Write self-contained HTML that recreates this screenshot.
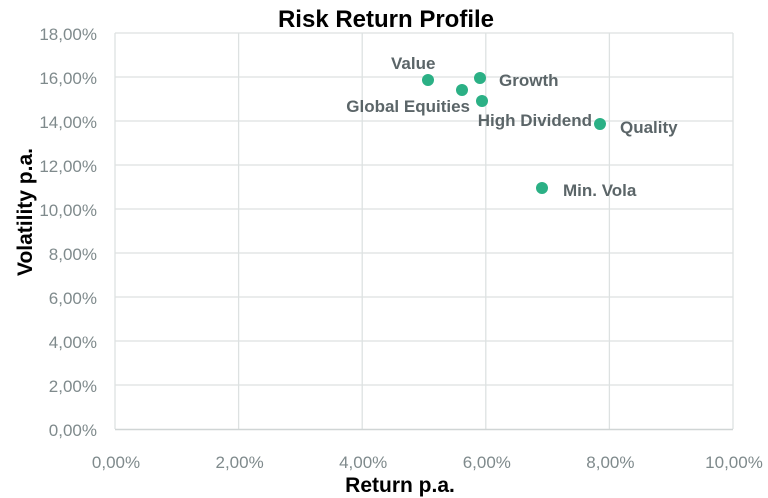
<!DOCTYPE html>
<html><head><meta charset="utf-8"><style>
html,body{margin:0;padding:0;background:#fff;}
svg{display:block;font-family:"Liberation Sans",sans-serif;}
</style></head><body>
<svg width="768" height="498" viewBox="0 0 768 498">
<g stroke="#dde1e1" stroke-width="1.3">
<line x1="115" y1="33" x2="733" y2="33"/>
<line x1="115" y1="77" x2="733" y2="77"/>
<line x1="115" y1="121" x2="733" y2="121"/>
<line x1="115" y1="165" x2="733" y2="165"/>
<line x1="115" y1="209" x2="733" y2="209"/>
<line x1="115" y1="253" x2="733" y2="253"/>
<line x1="115" y1="297" x2="733" y2="297"/>
<line x1="115" y1="341" x2="733" y2="341"/>
<line x1="115" y1="385" x2="733" y2="385"/>
<line x1="238.6" y1="33" x2="238.6" y2="429"/>
<line x1="362.2" y1="33" x2="362.2" y2="429"/>
<line x1="485.8" y1="33" x2="485.8" y2="429"/>
<line x1="609.4" y1="33" x2="609.4" y2="429"/>
<line x1="733" y1="33" x2="733" y2="429"/>
<line x1="115" y1="33" x2="115" y2="429"/>
</g>
<line x1="115" y1="429.5" x2="733" y2="429.5" stroke="#d0d5d5" stroke-width="1.5"/>
<text x="386" y="27" text-anchor="middle" font-size="24" font-weight="bold" fill="#000">Risk Return Profile</text>
<g font-size="17" fill="#7f8a8c" text-anchor="end">
<text x="97" y="40">18,00%</text>
<text x="97" y="84">16,00%</text>
<text x="97" y="128">14,00%</text>
<text x="97" y="172">12,00%</text>
<text x="97" y="216">10,00%</text>
<text x="97" y="260">8,00%</text>
<text x="97" y="304">6,00%</text>
<text x="97" y="348">4,00%</text>
<text x="97" y="392">2,00%</text>
<text x="97" y="436">0,00%</text>
</g>
<g font-size="17" fill="#7f8a8c" text-anchor="middle">
<text x="116" y="468">0,00%</text>
<text x="239.6" y="468">2,00%</text>
<text x="363.2" y="468">4,00%</text>
<text x="486.8" y="468">6,00%</text>
<text x="610.4" y="468">8,00%</text>
<text x="734" y="468">10,00%</text>
</g>
<text x="400" y="492" text-anchor="middle" font-size="21" font-weight="bold" fill="#000">Return p.a.</text>
<text transform="translate(32,212) rotate(-90)" text-anchor="middle" font-size="21" font-weight="bold" fill="#000">Volatility p.a.</text>
<g fill="#2bb085">
<circle cx="428" cy="80" r="6"/>
<circle cx="480" cy="78" r="6"/>
<circle cx="462" cy="90" r="6"/>
<circle cx="482" cy="101" r="6"/>
<circle cx="600" cy="124" r="6"/>
<circle cx="542" cy="188" r="6"/>
</g>
<g font-size="17" font-weight="bold" fill="#5b6568">
<text x="391" y="69">Value</text>
<text x="499" y="86">Growth</text>
<text x="470" y="112" text-anchor="end">Global Equities</text>
<text x="592" y="126" text-anchor="end">High Dividend</text>
<text x="620" y="133">Quality</text>
<text x="563" y="196">Min. Vola</text>
</g>
</svg>
</body></html>
